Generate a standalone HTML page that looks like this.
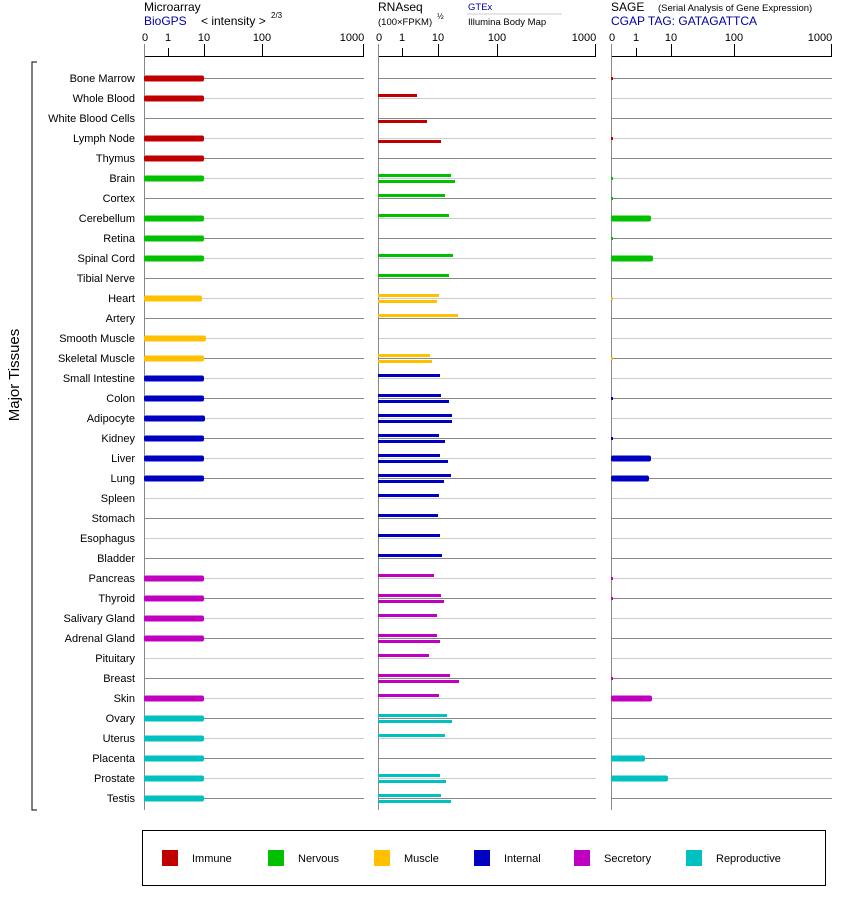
<!DOCTYPE html>
<html><head><meta charset="utf-8"><style>
body{margin:0;background:#fff;}
svg{display:block;font-family:"Liberation Sans",Arial,sans-serif;}
</style></head><body>
<svg id="s" width="842" height="900" xmlns="http://www.w3.org/2000/svg">
<text x="144" y="11" font-size="12">Microarray</text>
<text x="144" y="25" font-size="12" fill="#0000a0">BioGPS</text>
<text x="201" y="25" font-size="12">&lt; intensity &gt;</text>
<text x="271" y="18" font-size="8">2/3</text>
<text x="378" y="11" font-size="12">RNAseq</text>
<text x="378" y="25" font-size="9.5">(100×FPKM)</text>
<text x="437" y="19" font-size="8">½</text>
<text x="468" y="10" font-size="9.5" fill="#0000a0">GTEx</text>
<line x1="467" y1="14" x2="562" y2="14" stroke="#ccc"/>
<text x="468" y="25" font-size="9.5">Illumina Body Map</text>
<text x="611" y="11" font-size="12">SAGE</text>
<text x="658" y="11" font-size="9.5">(Serial Analysis of Gene Expression)</text>
<text x="611" y="25" font-size="12" fill="#0000a0">CGAP  TAG: GATAGATTCA</text>
<g id="g"></g>
<text transform="translate(19,375) rotate(-90)" font-size="15" text-anchor="middle">Major Tissues</text>
<path d="M37 62 H32 V810 H37" fill="none" stroke="#000"/>
<rect x="142.5" y="830.5" width="683" height="55" fill="none" stroke="#000"/>
</svg>
<script>
var g=document.getElementById('g'),h='';
var C={r:'#c00000',g:'#00c000',y:'#ffc000',b:'#0000c0',m:'#c000c0',c:'#00c0c0'};
var P=[[144,364,[168,204,262]],[378,596,[402,438,497]],[611,832,[636,671,734]]];
P.forEach(function(p){
 h+='<line x1="'+p[0]+'" y1="56.5" x2="'+p[1]+'" y2="56.5" stroke="#000"/>';
 h+='<line x1="'+(p[0]+.5)+'" y1="44" x2="'+(p[0]+.5)+'" y2="810" stroke="#888"/>';
 h+='<line x1="'+(p[1]-.5)+'" y1="44" x2="'+(p[1]-.5)+'" y2="57" stroke="#000"/>';
 h+='<text x="'+(p[0]+1)+'" y="41" font-size="11" text-anchor="middle">0</text>';
 h+='<text x="'+(p[1]-12)+'" y="41" font-size="11" text-anchor="middle">1000</text>';
 var L=['1','10','100'];
 p[2].forEach(function(x,i){h+='<line x1="'+(x+.5)+'" y1="'+(i?44:48)+'" x2="'+(x+.5)+'" y2="57" stroke="#000"/>';
  h+='<text x="'+x+'" y="41" font-size="11" text-anchor="middle">'+L[i]+'</text>';});
});
var T=[['Bone Marrow','r',1,[],[0]],['Whole Blood','r',1,[[417,-3]],0],['White Blood Cells','r',0,[[427,3]],0],['Lymph Node','r',1,[[441,3]],[0]],['Thymus','r',1,[],0],
['Brain','g',1,[[451,-3],[455,3]],[0]],['Cortex','g',0,[[445,-3]],[0]],['Cerebellum','g',1,[[449,-3]],651],['Retina','g',1,[],[0]],['Spinal Cord','g',1,[[453,-3]],653],['Tibial Nerve','g',0,[[449,-3]],0],
['Heart','y',202,[[439,-3],[437,3]],[0]],['Artery','y',0,[[458,-3]],0],['Smooth Muscle','y',206,[],0],['Skeletal Muscle','y',1,[[430,-3],[432,3]],[0]],
['Small Intestine','b',1,[[440,-3]],0],['Colon','b',1,[[441,-3],[449,3]],[0]],['Adipocyte','b',205,[[452,-3],[452,3]],0],['Kidney','b',1,[[439,-3],[445,3]],[0]],['Liver','b',1,[[440,-3],[448,3]],651],['Lung','b',1,[[451,-3],[444,3]],649],['Spleen','b',0,[[439,-3]],0],['Stomach','b',0,[[438,-3]],0],['Esophagus','b',0,[[440,-3]],0],['Bladder','b',0,[[442,-3]],0],
['Pancreas','m',1,[[434,-3]],[0]],['Thyroid','m',1,[[441,-3],[444,3]],[0]],['Salivary Gland','m',1,[[437,-3]],0],['Adrenal Gland','m',1,[[437,-3],[440,3]],0],['Pituitary','m',0,[[429,-3]],0],['Breast','m',0,[[450,-3],[459,3]],[0]],['Skin','m',1,[[439,-3]],652],
['Ovary','c',1,[[447,-3],[452,3]],0],['Uterus','c',1,[[445,-3]],0],['Placenta','c',1,[],645],['Prostate','c',1,[[440,-3],[446,3]],668],['Testis','c',1,[[441,-3],[451,3]],0]];
T.forEach(function(t,i){
 var y=78+20*i,col=C[t[1]],gc=i%2?'#ccc':'#888';
 h+='<text x="135" y="'+(y+4)+'" font-size="11" text-anchor="end">'+t[0]+'</text>';
 P.forEach(function(p){h+='<line x1="'+(p[0]+1)+'" y1="'+(y+.5)+'" x2="'+p[1]+'" y2="'+(y+.5)+'" stroke="'+gc+'"/>';});
 if(t[2]){var e=t[2]===1?204:t[2];h+='<rect x="144" y="'+(y-2.5)+'" width="'+(e-144)+'" height="6" fill="'+col+'" rx="2"/>';}
 t[3].forEach(function(b){h+='<rect x="378" y="'+(y+b[1]-1)+'" width="'+(b[0]-378)+'" height="3" fill="'+col+'"/>';});
 if(t[4]){if(typeof t[4]=='number')h+='<rect x="611" y="'+(y-2.5)+'" width="'+(t[4]-611)+'" height="6" fill="'+col+'" rx="2"/>';
  else h+='<rect x="611" y="'+(y-1)+'" width="2" height="3" fill="'+col+'"/>';}
});
var Lg=[['Immune','r',162],['Nervous','g',268],['Muscle','y',374],['Internal','b',474],['Secretory','m',574],['Reproductive','c',686]];
Lg.forEach(function(l){h+='<rect x="'+l[2]+'" y="850" width="16" height="16" fill="'+C[l[1]]+'"/><text x="'+(l[2]+30)+'" y="862" font-size="11">'+l[0]+'</text>';});
g.innerHTML=h;
</script>
</body></html>
